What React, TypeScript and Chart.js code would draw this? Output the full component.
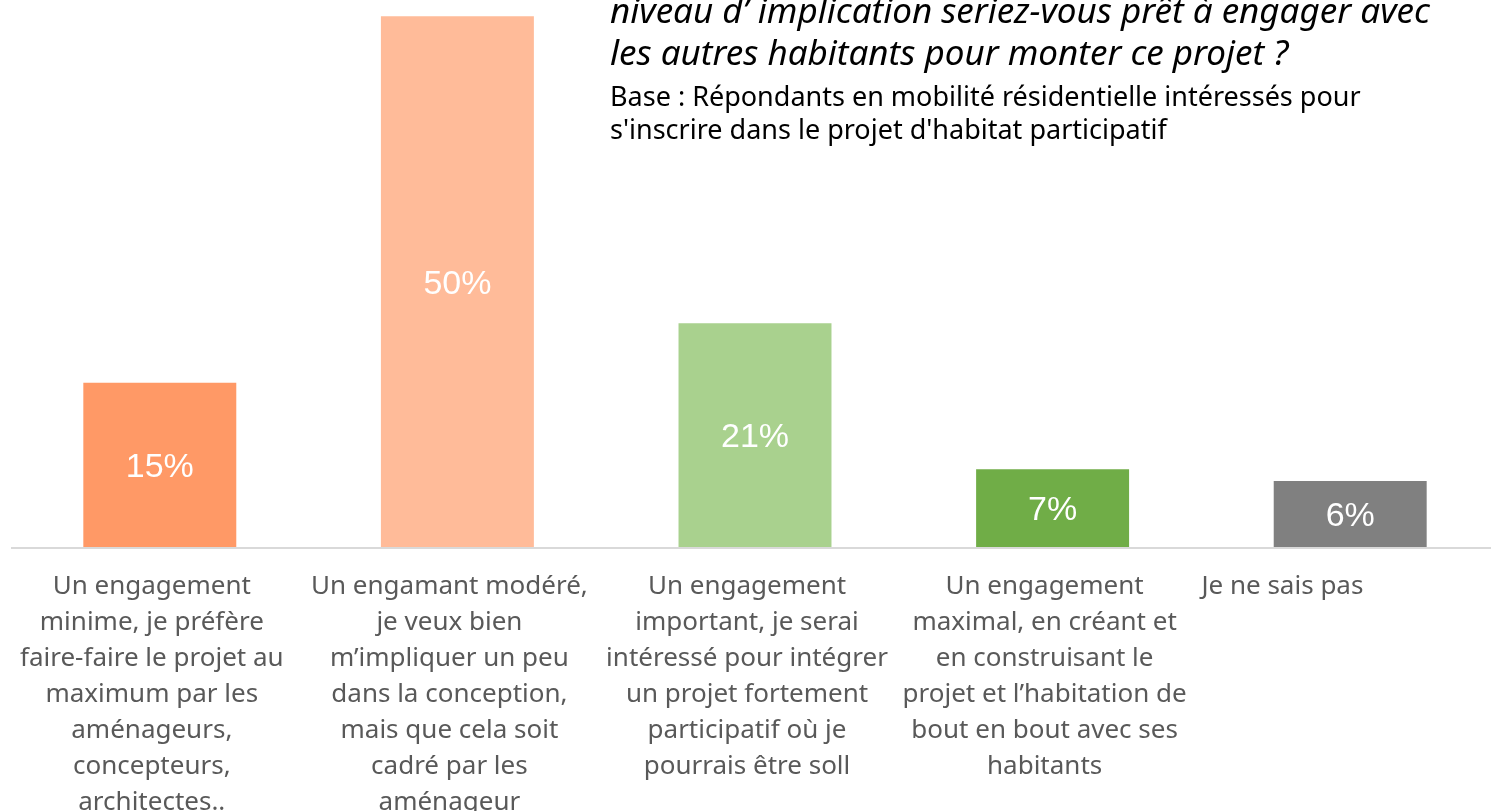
import { useEffect, useRef } from "react";
import { Chart, registerables } from "chart.js";

Chart.register(...registerables);

const categories: string[][] = [
  ["Un engagement", "minime, je préfère", "faire-faire le projet au", "maximum par les", "aménageurs,", "concepteurs,", "architectes.."],
  ["Un engamant modéré,", "je veux bien", "m’impliquer un peu", "dans la conception,", "mais que cela soit", "cadré par les", "aménageur"],
  ["Un engagement", "important, je serai", "intéressé pour intégrer", "un projet fortement", "participatif où je", "pourrais être soll"],
  ["Un engagement", "maximal, en créant et", "en construisant le", "projet et l’habitation de", "bout en bout avec ses", "habitants"],
  ["Je ne sais pas"],
];
const values = [15.4, 49.8, 21.0, 7.3, 6.2];
const valueLabels = ["15%", "50%", "21%", "7%", "6%"];
const barColors = ["#FF9966", "#FFBB99", "#A9D18E", "#70AD47", "#808080"];
const titleLines = [
  "niveau d’ implication seriez-vous prêt à engager avec",
  "les autres habitants pour monter ce projet ?",
];
const subtitleLines = [
  "Base : Répondants en mobilité résidentielle intéressés pour",
  "s'inscrire dans le projet d'habitat participatif",
];

const CANVAS_W = 1520;
const CANVAS_H = 811;
const LABEL_FONT = "26px 'Noto Sans'";

const decorPlugin = {
  id: "decor",
  afterDatasetsDraw(chart: any) {
    const ctx = chart.ctx as CanvasRenderingContext2D;
    const area = chart.chartArea;
    const xs = chart.scales.x;
    const ys = chart.scales.y;
    const base = ys.getPixelForValue(0);
    ctx.save();
    // baseline axis
    ctx.strokeStyle = "#D9D9D9";
    ctx.lineWidth = 2;
    ctx.beginPath();
    ctx.moveTo(area.left, base + 1);
    ctx.lineTo(area.right, base + 1);
    ctx.stroke();

    // data labels
    const meta = chart.getDatasetMeta(0);
    ctx.fillStyle = "#FFFFFF";
    ctx.font = "34px 'Liberation Sans'";
    ctx.textAlign = "center";
    ctx.textBaseline = "middle";
    meta.data.forEach((bar: any, i: number) => {
      const cy = (bar.y + bar.base) / 2;
      ctx.fillText(valueLabels[i], bar.x, cy + 3);
    });

    // category labels
    ctx.fillStyle = "#595959";
    ctx.font = LABEL_FONT;
    ctx.textBaseline = "alphabetic";
    const catW = (area.right - area.left) / categories.length;
    categories.forEach((lines, i) => {
      const px = xs.getPixelForValue(i);
      const last = i === categories.length - 1;
      ctx.textAlign = last ? "left" : "center";
      const x = last ? px - catW / 2 : px - 8;
      lines.forEach((ln, j) => {
        ctx.fillText(ln, x, base + 47 + j * 36);
      });
    });

    // title
    ctx.textAlign = "left";
    ctx.fillStyle = "#000000";
    ctx.font = "italic 35px 'Noto Sans'";
    titleLines.forEach((ln, j) => ctx.fillText(ln, 610, 23 + j * 42));
    ctx.font = "27px 'Noto Sans'";
    subtitleLines.forEach((ln, j) => ctx.fillText(ln, 610, 106 + j * 33));
    ctx.restore();
  },
};

export default function App() {
  const ref = useRef<HTMLCanvasElement>(null);
  useEffect(() => {
    document.body.style.margin = "0";
    document.body.style.overflow = "hidden";
    const canvas = ref.current!;
    const chart = new Chart(canvas, {
      type: "bar",
      data: {
        labels: categories.map((c) => c.join(" ")),
        datasets: [
          {
            data: values,
            backgroundColor: barColors,
            borderWidth: 0,
            categoryPercentage: 1,
            barPercentage: 0.514,
          },
        ],
      },
      options: {
        responsive: false,
        animation: false,
        devicePixelRatio: 1,
        layout: { padding: { left: 11, right: CANVAS_W - 1499, top: 14, bottom: CANVAS_H - 547 } },
        plugins: { legend: { display: false }, tooltip: { enabled: false }, title: { display: false } },
        scales: {
          x: { display: false },
          y: { display: false, min: 0, max: 50 },
        },
      },
      plugins: [decorPlugin],
    });
    return () => chart.destroy();
  }, []);
  return (
    <div style={{ width: 1491, height: 811, overflow: "hidden", position: "relative", background: "#fff" }}>
      <canvas ref={ref} width={CANVAS_W} height={CANVAS_H} style={{ width: CANVAS_W, height: CANVAS_H, display: "block" }} />
    </div>
  );
}
